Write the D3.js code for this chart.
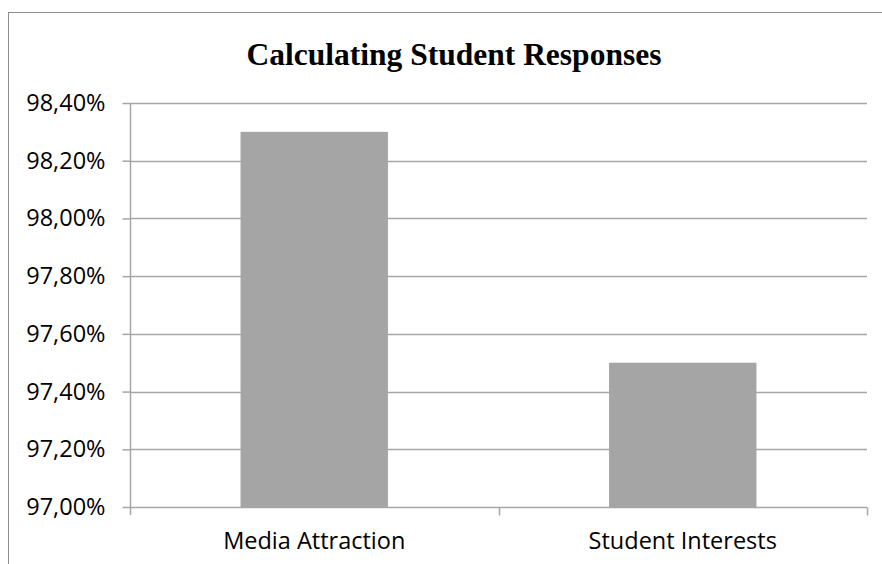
<!DOCTYPE html>
<html>
<head>
<meta charset="utf-8">
<script src="https://cdn.jsdelivr.net/npm/d3@7"></script>
<style>
  html, body { margin: 0; background: #fff; overflow: hidden; }
  svg { display: block; }
</style>
</head>
<body>
<svg id="chart" width="882" height="564"></svg>
<script>
// data
const categories = ["Media Attraction", "Student Interests"];
const values = [98.30, 97.50];
const yTicks = [97.0, 97.2, 97.4, 97.6, 97.8, 98.0, 98.2, 98.4];
const title = "Calculating Student Responses";

const svg = d3.select("#chart");
const plot = { left: 130, right: 867, top: 103, bottom: 507 };

// chart frame (runs off the right and bottom edge like the original)
svg.append("rect")
  .attr("x", 8.5).attr("y", 12.5)
  .attr("width", 900).attr("height", 600)
  .attr("fill", "#fff").attr("stroke", "#8c8c8c").attr("stroke-width", 1);

svg.append("text")
  .attr("x", 454).attr("y", 65)
  .attr("text-anchor", "middle")
  .style("font-family", "'Liberation Serif', 'Times New Roman', serif")
  .style("font-weight", "bold")
  .style("font-size", "31.5px")
  .text(title);

const y = d3.scaleLinear().domain([97.0, 98.4]).range([plot.bottom, plot.top]);
const x = d3.scaleBand().domain(categories).range([plot.left, plot.right]).padding(0);

const locale = d3.formatLocale({ decimal: ",", thousands: ".", grouping: [3], currency: ["", "€"] });
const fmt = v => locale.format(".2f")(v) + "%";

// gridlines
svg.append("g")
  .selectAll("line")
  .data(yTicks.filter(d => d > 97.0))
  .join("line")
  .attr("x1", plot.left).attr("x2", plot.right)
  .attr("y1", d => Math.round(y(d)) + 0.5).attr("y2", d => Math.round(y(d)) + 0.5)
  .attr("stroke", "#a6a6a6").attr("stroke-width", 1.5);

// bars: 40% of the category width, centered
const barW = x.bandwidth() * 0.4;
svg.append("g")
  .selectAll("rect")
  .data(values)
  .join("rect")
  .attr("x", (d, i) => x(categories[i]) + (x.bandwidth() - barW) / 2)
  .attr("y", d => y(d))
  .attr("width", barW)
  .attr("height", d => y(97.0) - y(d))
  .attr("fill", "#a5a5a5");

// y axis
const yAxis = svg.append("g")
  .attr("transform", `translate(${plot.left + 0.5},0)`)
  .call(d3.axisLeft(y).tickValues(yTicks).tickFormat(fmt).tickSize(8).tickPadding(17).tickSizeOuter(0));
yAxis.select(".domain").remove();
yAxis.append("line")
  .attr("x1", 0).attr("x2", 0)
  .attr("y1", plot.top).attr("y2", plot.bottom + 8)
  .attr("stroke", "#a6a6a6").attr("stroke-width", 1.5);
yAxis.selectAll(".tick line").attr("stroke", "#a6a6a6").attr("stroke-width", 1.5);
yAxis.selectAll("text")
  .attr("fill", "#000")
  .style("font-family", "'Open Sans', sans-serif")
  .style("font-size", "23.5px");

// x axis: ticks sit between categories
const xAxis = svg.append("g").attr("transform", `translate(0,${plot.bottom + 0.5})`);
xAxis.append("line")
  .attr("x1", plot.left).attr("x2", plot.right)
  .attr("stroke", "#a6a6a6").attr("stroke-width", 1.5);
const bounds = categories.map(c => x(c)).concat([plot.right]);
xAxis.selectAll(".btick")
  .data(bounds.slice(1))
  .join("line")
  .attr("class", "btick")
  .attr("x1", d => Math.round(d) + 0.5).attr("x2", d => Math.round(d) + 0.5)
  .attr("y1", 0).attr("y2", 8)
  .attr("stroke", "#a6a6a6").attr("stroke-width", 1.5);
xAxis.selectAll(".cat")
  .data(categories)
  .join("text")
  .attr("class", "cat")
  .attr("x", d => x(d) + x.bandwidth() / 2)
  .attr("y", 41)
  .attr("text-anchor", "middle")
  .style("font-family", "'Open Sans', sans-serif")
  .style("font-size", "23.5px")
  .text(d => d);
</script>
</body>
</html>
